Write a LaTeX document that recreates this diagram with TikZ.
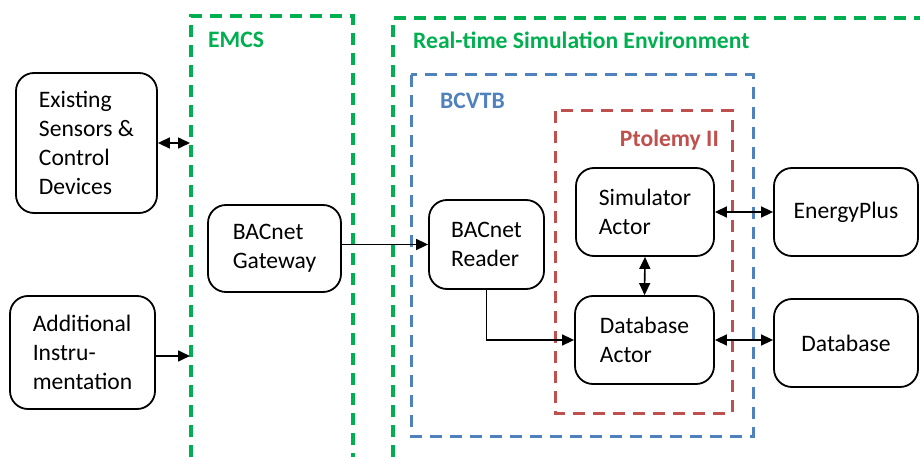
\documentclass[tikz,border=0pt]{standalone}
\usepackage{fontspec}
\setmainfont{Carlito}
\usetikzlibrary{arrows.meta}
\definecolor{envgreen}{HTML}{00B050}
\definecolor{bcblue}{HTML}{4F81BD}
\definecolor{ptred}{HTML}{C0504D}
\begin{document}
\begin{tikzpicture}[x=1pt,y=-1pt,
  box/.style={draw, line width=1.8pt, rounded corners=18pt, align=left,
    font=\fontsize{23.6}{29}\selectfont, inner sep=0pt},
  conn/.style={line width=1.6pt, -{Triangle[length=12pt,width=11pt]}},
  biconn/.style={line width=1.6pt, {Triangle[length=12pt,width=11pt]}-{Triangle[length=12pt,width=11pt]}},
  greenzone/.style={draw=envgreen, line width=3.4pt, dash pattern=on 12pt off 8pt},
  bluezone/.style={draw=bcblue, line width=3pt, dash pattern=on 12pt off 8pt},
  redzone/.style={draw=ptred, line width=3pt, dash pattern=on 12pt off 8pt},
  zlabel/.style={font=\bfseries\fontsize{23.6}{27}\selectfont, inner sep=0pt}
]
\useasboundingbox (0,0) rectangle (920,457);

% zones
\draw[greenzone] (191,457) -- (191,16) -- (353,16) -- (353,457);
\draw[greenzone] (393,457) -- (393,18) -- (920,18);
\draw[bluezone] (411,75) rectangle (753,436);
\draw[redzone] (555,111) rectangle (732,413);

\node[zlabel, text=envgreen, anchor=west] (lemcs) at (208,40) {EMCS};
\node[zlabel, text=envgreen, anchor=west] (lrts) at (413,40) {Real-time Simulation Environment};
\node[zlabel, text=bcblue, anchor=west] (lbc) at (440,101) {BCVTB};
\node[zlabel, text=ptred, anchor=east] (lpt) at (719,140) {Ptolemy II};

% boxes
\node[box, minimum width=141pt, minimum height=140pt] (ex) at (86.5,143) {Existing\\Sensors \&\\Control\\Devices};
\node[box, minimum width=145pt, minimum height=113pt] (add) at (82.5,352.5) {Additional\\Instru-\\mentation};
\node[box, minimum width=133pt, minimum height=87pt] (gw) at (274.5,248.5) {BACnet\\Gateway};
\node[box, minimum width=115pt, minimum height=89pt] (rd) at (486.5,244.5) {BACnet\\Reader};
\node[box, minimum width=138pt, minimum height=88pt] (sim) at (645,212) {Simulator\\Actor};
\node[box, minimum width=139pt, minimum height=88pt] (dba) at (644.5,340) {Database\\Actor};
\node[box, minimum width=144pt, minimum height=88pt] (ep) at (846,212) {EnergyPlus};
\node[box, minimum width=144pt, minimum height=88pt] (db) at (846,343) {Database};

% connector ends on the EMCS boundary
\coordinate (emcsA) at (190,143);
\coordinate (emcsB) at (190,356);

% connectors
\draw[biconn] (ex.east |- emcsA) -- (emcsA);
\draw[conn] (add.east |- emcsB) -- (emcsB);
\draw[conn] (gw.east |- rd.west) -- (rd.west);
\draw[conn] (rd.south) |- (dba.west);
\draw[biconn] (sim.south) -- (dba.north);
\draw[biconn] (sim.east) -- (ep.west);
\draw[biconn] (dba.east) -- (dba.east -| db.west);
\end{tikzpicture}
\end{document}
